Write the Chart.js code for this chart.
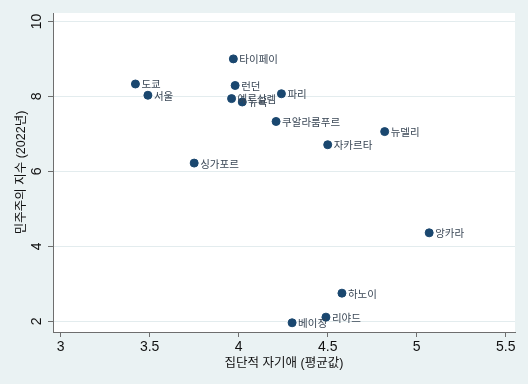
<!DOCTYPE html>
<html>
<head>
<meta charset="utf-8">
<script src="https://cdn.jsdelivr.net/npm/chart.js@4"></script>
<style>
  html, body { margin: 0; padding: 0; background: #eaf2f3; }
  canvas { display: block; }
</style>
</head>
<body>
<canvas id="scatterChart" width="528" height="384"></canvas>
<script>
// 도시별 값
const cities = ["타이페이", "도쿄", "서울", "런던", "예루살렘", "뉴욕", "파리", "쿠알라룸푸르",
                "뉴델리", "자카르타", "싱가포르", "앙카라", "하노이", "리야드", "베이징"];
const narcissism = [3.97, 3.42, 3.49, 3.98, 3.96, 4.02, 4.24, 4.21, 4.82, 4.50, 3.75, 5.07, 4.58, 4.49, 4.30];
const democracy  = [9.00, 8.33, 8.03, 8.29, 7.94, 7.85, 8.07, 7.33, 7.06, 6.71, 6.22, 4.36, 2.75, 2.11, 1.96];
const xTicks = [3, 3.5, 4, 4.5, 5, 5.5];
const yTicks = [2, 4, 6, 8, 10];

const fontFamily = "'Liberation Sans', 'Noto Sans CJK KR', sans-serif";

const plotBackground = {
  id: 'plotBackground',
  beforeDraw(chart) {
    const {ctx, chartArea: a} = chart;
    ctx.save();
    ctx.fillStyle = '#eaf2f3';
    ctx.fillRect(0, 0, chart.width, chart.height);
    ctx.fillStyle = '#ffffff';
    ctx.fillRect(a.left, a.top, a.right - a.left, a.bottom - a.top);
    ctx.restore();
  }
};

const cityLabels = {
  id: 'cityLabels',
  afterDatasetsDraw(chart) {
    const ctx = chart.ctx;
    const pts = chart.getDatasetMeta(0).data;
    ctx.save();
    ctx.font = "10.5px 'Noto Sans CJK KR', sans-serif";
    ctx.fillStyle = '#3a4756';
    ctx.textBaseline = 'middle';
    pts.forEach((p, i) => ctx.fillText(cities[i], p.x + 6, p.y + 0.5));
    ctx.restore();
  }
};

new Chart(document.getElementById("scatterChart"), {
    type: 'scatter',
    data: {
      datasets: [{
        data: narcissism.map((x, i) => ({x: x, y: democracy[i]})),
        backgroundColor: '#1a476f',
        borderColor: '#1a476f',
        pointRadius: 4,
        pointHoverRadius: 4
      }]
    },
    options: {
      responsive: false,
      animation: false,
      layout: { padding: { left: 0, top: 13, right: 13, bottom: 0 } },
      plugins: {
        legend: { display: false },
        tooltip: { enabled: false }
      },
      scales: {
        x: {
          type: 'linear',
          min: 2.957,
          max: 5.552,
          afterBuildTicks: s => { s.ticks = xTicks.map(v => ({value: v})); },
          afterFit: s => { s.height = 52; },
          border: { color: '#6e6e6e', width: 1 },
          grid: { drawOnChartArea: false, tickLength: 5, tickColor: '#6e6e6e' },
          ticks: {
            color: '#111',
            padding: 2,
            maxRotation: 0,
            callback: v => String(v),
            font: { family: fontFamily, size: 14 }
          },
          title: {
            display: true,
            text: '집단적 자기애 (평균값)',
            color: '#111',
            font: { family: fontFamily, size: 12.5 },
            padding: { top: 0, bottom: 13 }
          }
        },
        y: {
          type: 'linear',
          min: 1.714,
          max: 10.224,
          afterBuildTicks: s => { s.ticks = yTicks.map(v => ({value: v})); },
          afterFit: s => { s.width = 53; },
          border: { color: '#6e6e6e', width: 1 },
          grid: { color: '#e3ecee', tickLength: 5, tickColor: '#6e6e6e' },
          ticks: {
            color: '#111',
            padding: 3,
            minRotation: 90,
            maxRotation: 90,
            crossAlign: 'center',
            callback: v => String(v),
            font: { family: fontFamily, size: 14 }
          },
          title: {
            display: true,
            text: '민주주의 지수 (2022년)',
            color: '#111',
            font: { family: fontFamily, size: 12.5 },
            padding: { top: 14, bottom: 0 }
          }
        }
      }
    },
    plugins: [plotBackground, cityLabels]
});
</script>
</body>
</html>
